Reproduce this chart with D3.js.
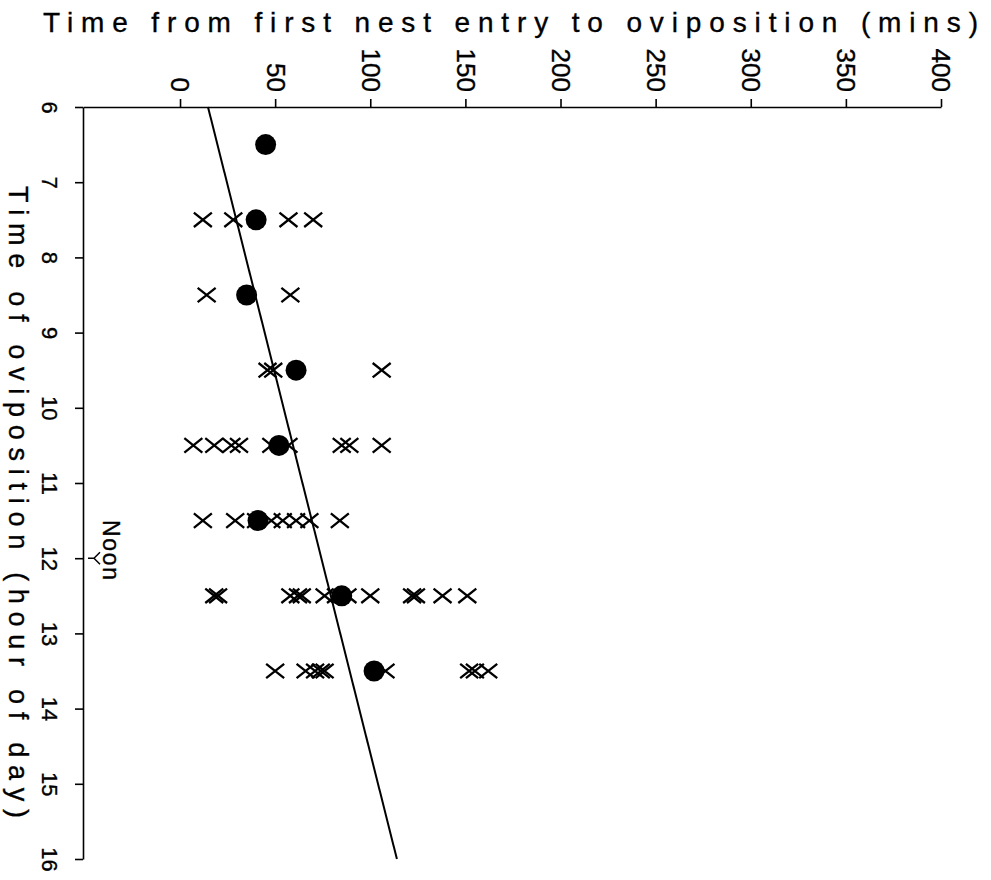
<!DOCTYPE html>
<html>
<head>
<meta charset="utf-8">
<script src="https://cdn.jsdelivr.net/npm/d3@7"></script>
<style>
  body { margin: 0; background: #fff; }
  text { font-family: "Liberation Sans", Arial, sans-serif; fill: #000; stroke: #000; stroke-width: 0.35px; }
</style>
</head>
<body>
<div id="chart"></div>
<script>
// -------------------------------
// Data
// -------------------------------
const rowHours = [6.5, 7.5, 8.5, 9.5, 10.5, 11.5, 12.5, 13.5];
const meanMins = [45, 40, 35, 61, 52, 41, 85, 102];
const crossMins = [
  [],
  [12, 28, 57, 70],
  [14, 58],
  [46, 49, 106],
  [7, 18, 27, 31, 48, 57, 85, 89, 106],
  [12, 29, 40, 48, 54, 61, 68, 84],
  [18, 20, 58, 62, 64, 76, 82, 88, 100, 122, 124, 138, 151],
  [50, 66, 71, 74, 76, 108, 152, 155, 162]
];
const fitHours = [6, 16];
const fitMins = [14.7, 114];
const minTicks = [0, 50, 100, 150, 200, 250, 300, 350, 400];
const hourTicks = [6, 7, 8, 9, 10, 11, 12, 13, 14, 15, 16];

// -------------------------------
// Layout
// -------------------------------
const width = 991, height = 880;
const svg = d3.select("#chart").append("svg")
  .attr("width", width).attr("height", height);

const x = d3.scaleLinear().domain([-51, 400]).range([83, 941]);
const y = d3.scaleLinear().domain([6, 16]).range([107, 859]);

// -------------------------------
// Axes
// -------------------------------
const xAxis = svg.append("g")
  .attr("transform", `translate(0,${y(6)})`)
  .call(d3.axisTop(x).tickValues(minTicks).tickSize(8).tickSizeOuter(0));
xAxis.select(".domain").attr("stroke-width", 1.6);
xAxis.selectAll(".tick line").attr("stroke-width", 1.6);
xAxis.selectAll(".tick text")
  .attr("x", null).attr("y", null).attr("dy", "0.35em")
  .attr("transform", "translate(0,-15) rotate(90)")
  .attr("text-anchor", "end")
  .attr("font-size", 26)
  .attr("font-family", "Liberation Sans, Arial, sans-serif");

const yAxis = svg.append("g")
  .attr("transform", `translate(${x(-51)},0)`)
  .call(d3.axisLeft(y).tickValues(hourTicks).tickSize(8).tickSizeOuter(0));
yAxis.select(".domain").attr("stroke-width", 1.6);
yAxis.selectAll(".tick line").attr("stroke-width", 1.6);
yAxis.selectAll(".tick text")
  .attr("x", null).attr("y", null).attr("dy", "0.35em")
  .attr("transform", "translate(-33,0) rotate(90)")
  .attr("text-anchor", "middle")
  .attr("font-size", 22)
  .attr("font-family", "Liberation Sans, Arial, sans-serif");

// titles
svg.append("text")
  .attr("x", 43).attr("y", 32)
  .attr("font-size", 28)
  .attr("textLength", 935).attr("lengthAdjust", "spacing")
  .text("Time from first nest entry to oviposition (mins)");

svg.append("text")
  .attr("transform", "translate(9,186) rotate(90)")
  .attr("font-size", 27)
  .attr("textLength", 632).attr("lengthAdjust", "spacing")
  .text("Time of oviposition (hour of day)");

// noon marker
svg.append("text")
  .attr("transform", "translate(103,520) rotate(90)")
  .attr("font-size", 23)
  .attr("textLength", 60).attr("lengthAdjust", "spacing")
  .text("Noon");
const noonY = y(12);
const ax = x(-51);
svg.append("path")
  .attr("d", `M${ax + 5},${noonY} L${ax + 11},${noonY} M${ax + 17},${noonY - 6} L${ax + 11},${noonY} L${ax + 17},${noonY + 6}`)
  .attr("fill", "none").attr("stroke", "#000").attr("stroke-width", 1.5);

// -------------------------------
// Fitted line
// -------------------------------
svg.append("line")
  .attr("x1", x(fitMins[0])).attr("y1", y(fitHours[0]))
  .attr("x2", x(fitMins[1])).attr("y2", y(fitHours[1]))
  .attr("stroke", "#000").attr("stroke-width", 2);

// -------------------------------
// Points
// -------------------------------
const crosses = rowHours.flatMap((h, i) => crossMins[i].map(m => ({ hour: h, mins: m })));
const s = 9;
svg.append("g").selectAll("path")
  .data(crosses)
  .join("path")
  .attr("d", d => {
    const cx = x(d.mins), cy = y(d.hour);
    return `M${cx - s},${cy - s * 0.8} L${cx + s},${cy + s * 0.8} M${cx - s},${cy + s * 0.8} L${cx + s},${cy - s * 0.8}`;
  })
  .attr("stroke", "#000").attr("stroke-width", 2.3).attr("fill", "none");

svg.append("g").selectAll("circle")
  .data(rowHours.map((h, i) => ({ hour: h, mins: meanMins[i] })))
  .join("circle")
  .attr("cx", d => x(d.mins))
  .attr("cy", d => y(d.hour))
  .attr("r", 10.5)
  .attr("fill", "#000");
</script>
</body>
</html>
